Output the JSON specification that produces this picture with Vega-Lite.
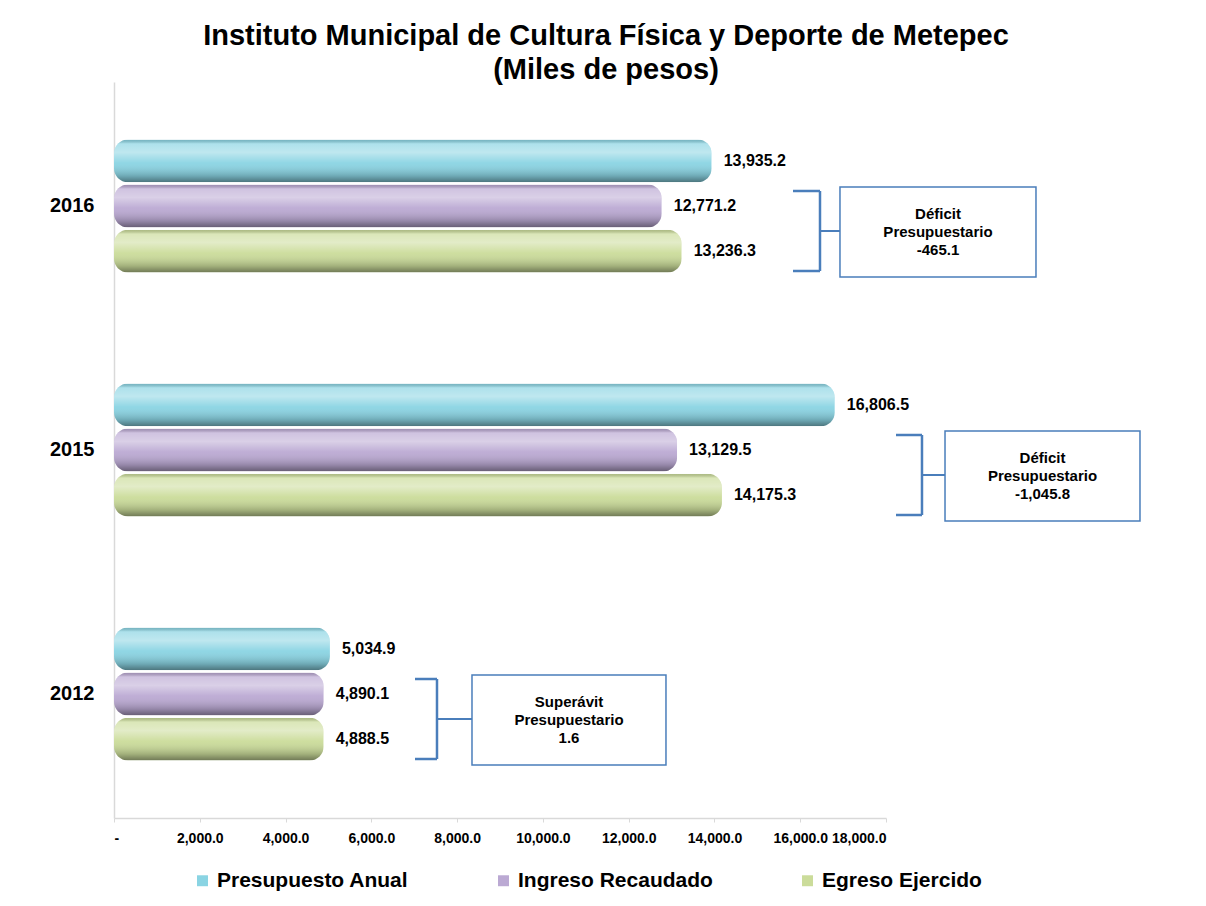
{
  "$schema": "https://vega.github.io/schema/vega-lite/v6.json",
  "autosize": "none",
  "width": 772,
  "height": 736,
  "padding": {"left": 114, "top": 82, "right": 320, "bottom": 88},
  "background": "white",
  "title": {
    "text": ["Instituto Municipal de Cultura Física y Deporte de Metepec", "(Miles de pesos)"],
    "font": "Liberation Sans",
    "fontSize": 29,
    "fontWeight": "bold",
    "color": "#000000",
    "anchor": "middle",
    "frame": "group",
    "dx": 106,
    "offset": -3,
    "lineHeight": 34
  },
  "config": {
    "font": "Liberation Sans",
    "view": {"stroke": null}
  },
  "datasets": {
    "bars": [
      {"year": "2016", "series": "Presupuesto Anual", "value": 13935.2},
      {"year": "2016", "series": "Ingreso Recaudado", "value": 12771.2},
      {"year": "2016", "series": "Egreso Ejercido", "value": 13236.3},
      {"year": "2015", "series": "Presupuesto Anual", "value": 16806.5},
      {"year": "2015", "series": "Ingreso Recaudado", "value": 13129.5},
      {"year": "2015", "series": "Egreso Ejercido", "value": 14175.3},
      {"year": "2012", "series": "Presupuesto Anual", "value": 5034.9},
      {"year": "2012", "series": "Ingreso Recaudado", "value": 4890.1},
      {"year": "2012", "series": "Egreso Ejercido", "value": 4888.5}
    ],
    "ann": [
      {"year": "2016", "label": "Déficit\nPresupuestario\n-465.1", "boxStart": 16927, "boxEnd": 21497, "boxMid": 19212, "bracket": 16461, "armStart": 15832},
      {"year": "2015", "label": "Déficit\nPresupuestario\n-1,045.8", "boxStart": 19376, "boxEnd": 23922, "boxMid": 21649, "bracket": 18839, "armStart": 18233},
      {"year": "2012", "label": "Superávit\nPresupuestario\n1.6", "boxStart": 8347, "boxEnd": 12870, "boxMid": 10609, "bracket": 7531, "armStart": 7018}
    ]
  },
  "encoding": {
    "y": {
      "field": "year",
      "type": "nominal",
      "scale": {"domain": ["2016", "2015", "2012"], "paddingInner": 0.455, "paddingOuter": 0.2357},
      "axis": {
        "title": null,
        "labelFontSize": 20,
        "labelFontWeight": "bold",
        "labelColor": "#000000",
        "labelPadding": 20,
        "ticks": false,
        "domainColor": "#d9d9d9",
        "domainWidth": 1.5
      }
    }
  },
  "layer": [
    {
      "data": {"name": "bars"},
      "mark": {"type": "bar", "cornerRadius": 14},
      "encoding": {
        "x": {
          "field": "value",
          "type": "quantitative",
          "scale": {"domain": [0, 18000], "nice": false},
          "axis": {
            "title": null,
            "values": [0, 2000, 4000, 6000, 8000, 10000, 12000, 14000, 16000, 18000],
            "labelExpr": "datum.value == 0 ? '-' : format(datum.value, ',.1f')",
            "labelFontSize": 14,
            "labelFontWeight": "bold",
            "labelColor": "#000000",
            "labelPadding": 9,
            "grid": false,
            "domainColor": "#d9d9d9",
            "domainWidth": 1.5,
            "tickColor": "#d9d9d9",
            "tickSize": 4
          }
        },
        "yOffset": {
          "field": "series",
          "type": "nominal",
          "scale": {"domain": ["Presupuesto Anual", "Ingreso Recaudado", "Egreso Ejercido"], "paddingInner": 0.05}
        },
        "color": {
          "field": "series",
          "type": "nominal",
          "scale": {
            "domain": ["Presupuesto Anual", "Ingreso Recaudado", "Egreso Ejercido"],
            "range": ["#8ad4e3", "#bba9d3", "#cbdc9a"]
          },
          "legend": {
            "title": null,
            "orient": "none",
            "legendX": 78,
            "legendY": 788,
            "direction": "horizontal",
            "symbolType": "square",
            "symbolSize": 120,
            "symbolStrokeWidth": 0,
            "labelFontSize": 21,
            "labelFontWeight": "bold",
            "labelColor": "#000000",
            "labelLimit": 400,
            "labelOffset": 4,
            "columnPadding": 84,
            "symbolOffset": 0
          }
        }
      }
    },
    {
      "data": {"name": "bars"},
      "mark": {
        "type": "bar",
        "cornerRadius": 14,
        "fill": {
          "gradient": "linear",
          "x1": 0, "y1": 0, "x2": 0, "y2": 1,
          "stops": [
            {"offset": 0, "color": "rgba(0,0,0,0.15)"},
            {"offset": 0.1, "color": "rgba(255,255,255,0.3)"},
            {"offset": 0.3, "color": "rgba(255,255,255,0.45)"},
            {"offset": 0.55, "color": "rgba(255,255,255,0.05)"},
            {"offset": 0.85, "color": "rgba(0,0,0,0.2)"},
            {"offset": 1, "color": "rgba(0,0,0,0.45)"}
          ]
        }
      },
      "encoding": {
        "x": {"field": "value", "type": "quantitative"},
        "yOffset": {"field": "series", "type": "nominal"}
      }
    },
    {
      "data": {"name": "bars"},
      "mark": {"type": "text", "align": "left", "baseline": "middle", "dx": 12, "fontSize": 16, "fontWeight": "bold", "color": "#000000"},
      "encoding": {
        "x": {"field": "value", "type": "quantitative"},
        "yOffset": {"field": "series", "type": "nominal"},
        "text": {"field": "value", "type": "quantitative", "format": ",.1f"}
      }
    },
    {
      "data": {"name": "ann"},
      "mark": {"type": "bar", "fill": "white", "stroke": "#4a7ebb", "strokeWidth": 1.5, "height": 90, "yOffset": 26},
      "encoding": {
        "x": {"field": "boxStart", "type": "quantitative"},
        "x2": {"field": "boxEnd"}
      }
    },
    {
      "data": {"name": "ann"},
      "mark": {"type": "text", "align": "center", "baseline": "middle", "lineBreak": "\n", "lineHeight": 18, "fontSize": 15, "fontWeight": "bold", "color": "#000000", "yOffset": 8},
      "encoding": {
        "x": {"field": "boxMid", "type": "quantitative"},
        "text": {"field": "label"}
      }
    },
    {
      "data": {"name": "ann"},
      "mark": {"type": "tick", "orient": "vertical", "size": 80, "thickness": 2.5, "color": "#4a7ebb", "yOffset": 25, "opacity": 1},
      "encoding": {
        "x": {"field": "bracket", "type": "quantitative"}
      }
    },
    {
      "data": {"name": "ann"},
      "mark": {"type": "rule", "strokeWidth": 2.5, "color": "#4a7ebb", "yOffset": -15},
      "encoding": {
        "x": {"field": "armStart", "type": "quantitative"},
        "x2": {"field": "bracket"}
      }
    },
    {
      "data": {"name": "ann"},
      "mark": {"type": "rule", "strokeWidth": 2.5, "color": "#4a7ebb", "yOffset": 65},
      "encoding": {
        "x": {"field": "armStart", "type": "quantitative"},
        "x2": {"field": "bracket"}
      }
    },
    {
      "data": {"name": "ann"},
      "mark": {"type": "rule", "strokeWidth": 2, "color": "#4a7ebb", "yOffset": 25},
      "encoding": {
        "x": {"field": "bracket", "type": "quantitative"},
        "x2": {"field": "boxStart"}
      }
    }
  ]
}
